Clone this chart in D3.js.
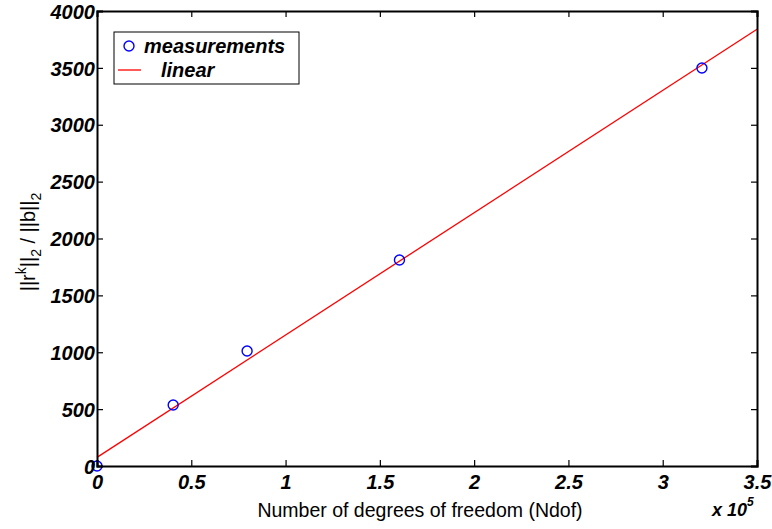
<!DOCTYPE html>
<html><head><meta charset="utf-8">
<script src="https://cdn.jsdelivr.net/npm/d3@7"></script>
<style>body{margin:0;background:#fff}svg{display:block}</style>
</head><body>
<svg id="c" width="772" height="529"></svg>
<script>
const measX = [0, 0.404, 0.796, 1.604, 3.208];
const measY = [0, 536, 1011, 1811, 3499];
const lineX = [0, 3.5];
const lineY = [76, 3840];
const xTicks = [0, 0.5, 1, 1.5, 2, 2.5, 3, 3.5];
const yTicks = [0, 500, 1000, 1500, 2000, 2500, 3000, 3500, 4000];

(function () {
const svg = d3.select("#c");
const L = 97, R = 757, T = 11, B = 466;
const x = d3.scaleLinear().domain([0, 3.5]).range([L, R]);
const y = d3.scaleLinear().domain([0, 4000]).range([B, T]);
const font = "'Liberation Sans', Arial, Helvetica, sans-serif";
const FS = "20px", SS = "14px";

// linear fit
svg.append("path")
  .datum(lineX.map((v, i) => [v, lineY[i]]))
  .attr("d", d3.line().x(d => x(d[0])).y(d => y(d[1])))
  .attr("stroke", "#ff0000").attr("stroke-width", 1.3).attr("fill", "none");

// measurements
svg.selectAll("circle.m").data(measX).enter().append("circle")
  .attr("cx", d => x(d)).attr("cy", (d, i) => y(measY[i])).attr("r", 5)
  .attr("fill", "none").attr("stroke", "#0000ff").attr("stroke-width", 1.4);

// axes
const tickLen = 6;
const gBottom = svg.append("g").attr("transform", `translate(0,${B})`)
  .call(d3.axisBottom(x).tickValues(xTicks).tickSize(-tickLen).tickPadding(9).tickFormat(d => d3.format("~g")(d)));
const gTop = svg.append("g").attr("transform", `translate(0,${T})`)
  .call(d3.axisTop(x).tickValues(xTicks).tickSize(-tickLen).tickFormat(""));
const gLeft = svg.append("g").attr("transform", `translate(${L},0)`)
  .call(d3.axisLeft(y).tickValues(yTicks).tickSize(-tickLen).tickPadding(2).tickFormat(d3.format("d")));
const gRight = svg.append("g").attr("transform", `translate(${R},0)`)
  .call(d3.axisRight(y).tickValues(yTicks).tickSize(-tickLen).tickFormat(""));
[gBottom, gTop, gLeft, gRight].forEach(g => {
  g.select(".domain").attr("stroke", "#000").attr("stroke-width", 2);
  g.selectAll(".tick line").attr("stroke", "#000").attr("stroke-width", 1.2);
  g.selectAll(".tick text").attr("fill", "#000")
    .style("font-family", font).style("font-size", FS)
    .style("font-weight", "bold").style("font-style", "italic");
});
gLeft.selectAll(".tick text").attr("dy", "0.36em");

// axis labels
svg.append("text").attr("x", 420).attr("y", 517).attr("text-anchor", "middle")
  .style("font-family", font).style("font-size", "19.5px").text("Number of degrees of freedom (Ndof)");

const yl = svg.append("text").attr("transform", "translate(35,242) rotate(-90)")
  .attr("text-anchor", "middle").style("font-family", font).style("font-size", FS);
yl.append("tspan").text("||r");
yl.append("tspan").attr("dy", -9).style("font-size", SS).text("k");
yl.append("tspan").attr("dy", 9).text("||");
yl.append("tspan").attr("dy", 6).style("font-size", SS).text("2");
yl.append("tspan").attr("dy", -6).text(" / ||b||");
yl.append("tspan").attr("dy", 6).style("font-size", SS).text("2");

const ex = svg.append("text").attr("x", 712).attr("y", 516)
  .style("font-family", font).style("font-size", "18px").style("font-weight", "bold").style("font-style", "italic");
ex.append("tspan").text("x 10");
ex.append("tspan").attr("dy", -10).style("font-size", "12px").text("5");

// legend
const lg = svg.append("g");
lg.append("rect").attr("x", 114).attr("y", 32).attr("width", 185).attr("height", 52)
  .attr("fill", "#fff").attr("stroke", "#000").attr("stroke-width", 1);
lg.append("circle").attr("cx", 129).attr("cy", 46).attr("r", 5)
  .attr("fill", "none").attr("stroke", "#0000ff").attr("stroke-width", 1.4);
lg.append("line").attr("x1", 118).attr("x2", 141).attr("y1", 70).attr("y2", 70)
  .attr("stroke", "#ff0000").attr("stroke-width", 1.3);
lg.append("text").attr("x", 144).attr("y", 53).text("measurements");
lg.append("text").attr("x", 161).attr("y", 77).text("linear");
lg.selectAll("text").style("font-family", font).style("font-size", FS)
  .style("font-weight", "bold").style("font-style", "italic");
})();
</script>
</body></html>
